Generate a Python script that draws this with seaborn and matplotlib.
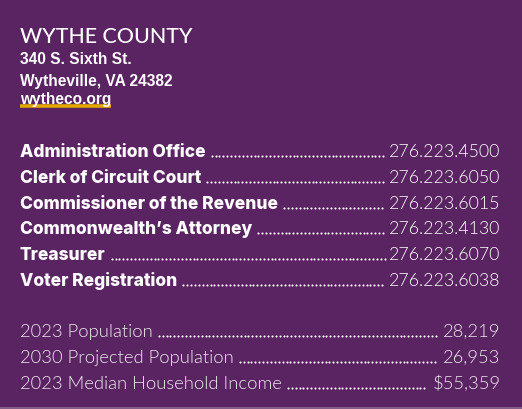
import matplotlib
matplotlib.use('Agg')
import matplotlib.pyplot as plt
import numpy as np
import seaborn as sns

# Data
county_name = 'WYTHE COUNTY'
address_lines = ['340 S. Sixth St.', 'Wytheville, VA 24382']
website = 'wytheco.org'

office_names = ['Administration Office', 'Clerk of Circuit Court', 'Commissioner of the Revenue',
                'Commonwealth\u2019s Attorney', 'Treasurer', 'Voter Registration']
office_phones = ['276.223.4500', '276.223.6050', '276.223.6015',
                 '276.223.4130', '276.223.6070', '276.223.6038']

stat_labels = ['2023 Population', '2030 Projected Population', '2023 Median Household Income']
stat_values = ['28,219', '26,953', '$55,359']

# Styling
sns.set_style('white')
bg_color = '#5a2361'
gold = '#e2a700'
W, H = 522, 409
LATO = ['Lato', 'DejaVu Sans']
INTER = ['Inter', 'DejaVu Sans']
ARIAL = ['Liberation Sans', 'DejaVu Sans']

fig = plt.figure(figsize=(W / 100, H / 100), dpi=100, facecolor=bg_color)
# overlay axes in pixel units (y down) for the decorations
ax = fig.add_axes([0, 0, 1, 1])
ax.set_xlim(0, W)
ax.set_ylim(H, 0)
ax.axis('off')

def put(x, y, s, **kw):
    return ax.text(x, y, s, va='baseline', **kw)

put(20, 43, county_name, color='white', fontsize=15.4, family=LATO, fontweight=500)
for i, line in enumerate(address_lines):
    put(20, 64 + i * 22, line, color='white', fontsize=11.2, family=ARIAL, fontweight='bold')
web_txt = put(20, 104, website, color='white', fontsize=11.2, family=ARIAL, fontweight='bold')

rows = []
for i, (name, phone) in enumerate(zip(office_names, office_phones)):
    yb = 157 + i * 25.8
    a = put(20, yb, name, color='white', fontsize=12.5, family=INTER, fontweight=800)
    b = put(500.5, yb, phone, color='white', fontsize=12.8, family=LATO, fontweight=300, ha='right')
    rows.append((a, b, yb))

for i, (lab, val) in enumerate(zip(stat_labels, stat_values)):
    yb = 337 + i * 26
    a = put(20, yb, lab, color='#efe8f0', fontsize=13.2, family=LATO, fontweight=300)
    b = put(500.5, yb, val, color='#efe8f0', fontsize=13.2, family=LATO, fontweight=300, ha='right')
    rows.append((a, b, yb))

fig.canvas.draw()
r = fig.canvas.get_renderer()

# dot leaders between label and value
dot_step = 3.9
for a, b, yb in rows:
    x0 = a.get_window_extent(r).x1 + 6
    x1 = b.get_window_extent(r).x0 - 4.5
    n = int((x1 - x0) // dot_step)
    xs = x0 + dot_step * np.arange(n + 1)
    ax.plot(xs, np.full(len(xs), yb - 1), 'o', ms=1.5, mew=0, color='white')

# underline of the website
wb = web_txt.get_window_extent(r)
ax.plot([wb.x0, wb.x1], [106, 106], color=gold, lw=2.6, solid_capstyle='butt', zorder=0)

# thin light strip at the bottom edge
ax.axhline(H - 0.8, color='#8a6a92', lw=1.2)

fig.savefig('out.png', dpi=100, facecolor=bg_color)
